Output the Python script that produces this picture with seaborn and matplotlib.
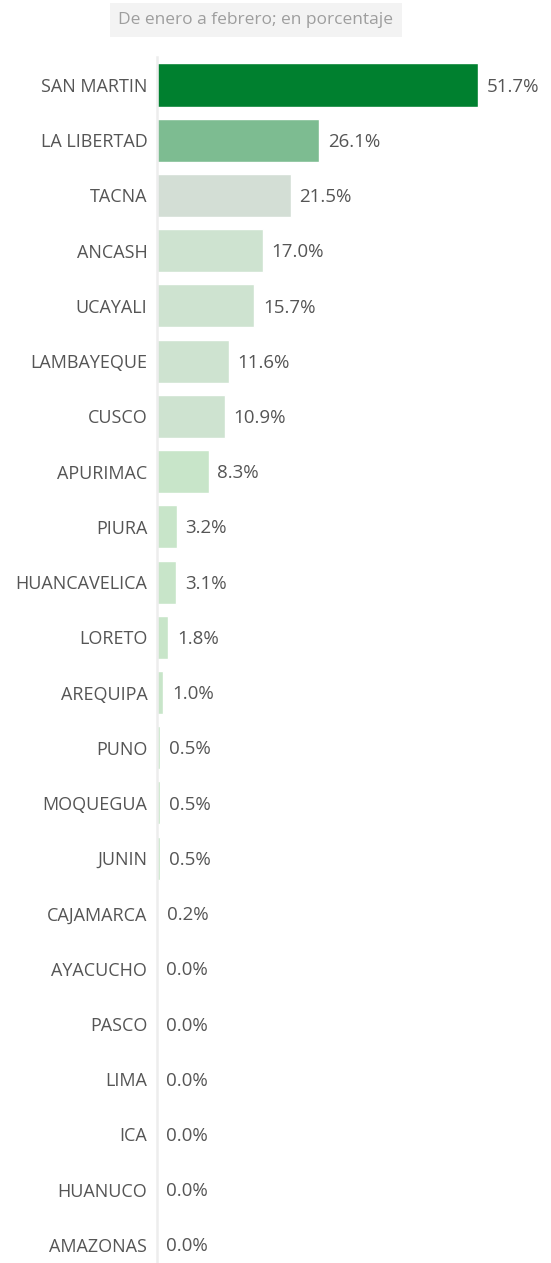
import pandas as pd
import seaborn as sns
import matplotlib.pyplot as plt

regions = ["SAN MARTIN", "LA LIBERTAD", "TACNA", "ANCASH", "UCAYALI", "LAMBAYEQUE",
           "CUSCO", "APURIMAC", "PIURA", "HUANCAVELICA", "LORETO", "AREQUIPA",
           "PUNO", "MOQUEGUA", "JUNIN", "CAJAMARCA", "AYACUCHO", "PASCO",
           "LIMA", "ICA", "HUANUCO", "AMAZONAS"]
values = [51.7, 26.1, 21.5, 17.0, 15.7, 11.6, 10.9, 8.3, 3.2, 3.1, 1.8, 1.0,
          0.5, 0.5, 0.5, 0.2, 0.0, 0.0, 0.0, 0.0, 0.0, 0.0]
subtitle = "De enero a febrero; en porcentaje"

colors = ["#00802F", "#7DBC91", "#D3DED5"] + ["#CEE3D0"] * 4 + ["#C8E5C9"] * 15

df = pd.DataFrame({"Region": regions, "Value": values})

sns.set_style("white")
plt.rcParams["font.family"] = ["Open Sans", "DejaVu Sans"]

fig = plt.figure(figsize=(5.51, 12.63), dpi=100)
ax = fig.add_axes([157 / 551, 0, 385 / 551, (1263 - 57.4) / 1263])

sns.barplot(data=df, y="Region", x="Value", hue="Region", palette=colors,
            saturation=1, legend=False, width=0.78, ax=ax, orient="h")

ax.set_xlim(0, 62)
ax.set_ylim(21.33, -0.5)
ax.set_xlabel("")
ax.set_ylabel("")
ax.set_xticks([])
ax.tick_params(axis="y", length=0, pad=7, labelsize=13, labelcolor="#555555")
for s in ["top", "right", "bottom"]:
    ax.spines[s].set_visible(False)
ax.spines["left"].set_color("#EDEDED")
ax.spines["left"].set_linewidth(1.8)

# etiquetas de valor
for i, v in enumerate(values):
    ax.text(v + 1.4, i + 0.03, f"{v:.1f}%", va="center", ha="left",
            fontsize=13.5, color="#555555")

fig.text(256 / 551, 1 - 20 / 1263, subtitle, ha="center", va="center",
         fontsize=12.5, color="#9E9E9E",
         bbox=dict(boxstyle="square,pad=0.5", facecolor="#F3F3F3", edgecolor="none"))

plt.savefig("out.png", dpi=100)
